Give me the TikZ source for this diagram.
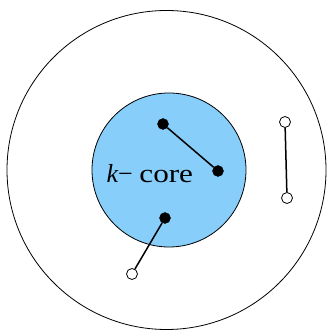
\documentclass[tikz,border=0pt]{standalone}
\usepackage{fontspec}
\usepackage{graphicx}
\setmainfont{Liberation Serif}
\begin{document}
\begin{tikzpicture}[x=1pt,y=1pt,
  filled/.style={circle,fill=black,draw=black,inner sep=0pt,minimum size=11pt},
  hollow/.style={circle,fill=white,draw=black,line width=0.8pt,inner sep=0pt,minimum size=11pt},
  edge/.style={line width=1.5pt}]
\useasboundingbox (0,0) rectangle (328,331);
\fill[white] (0,0) rectangle (328,331);
\node[circle,draw=black,line width=0.8pt,minimum size=319pt,inner sep=0pt] (outer) at (166.5,161) {};
\node[circle,draw=black,fill={rgb,255:red,135;green,206;blue,250},line width=0.8pt,minimum size=154pt,inner sep=0pt] (core) at (169,161) {};
\node[font=\fontsize{26}{30}\selectfont,anchor=base west,inner sep=0pt] (lbl) at (106.5,148.5) {{\itshape k}− \scalebox{1.2}[1]{core}};
\node[filled] (a) at (163,207) {};
\node[filled] (b) at (218,160) {};
\node[filled] (c) at (165,113) {};
\node[hollow] (d) at (132,57) {};
\node[hollow] (e) at (285,209) {};
\node[hollow] (f) at (287,133) {};
\draw[edge] (a) -- (b);
\draw[edge] (c) -- (d);
\draw[edge] (e) -- (f);
\end{tikzpicture}
\end{document}
